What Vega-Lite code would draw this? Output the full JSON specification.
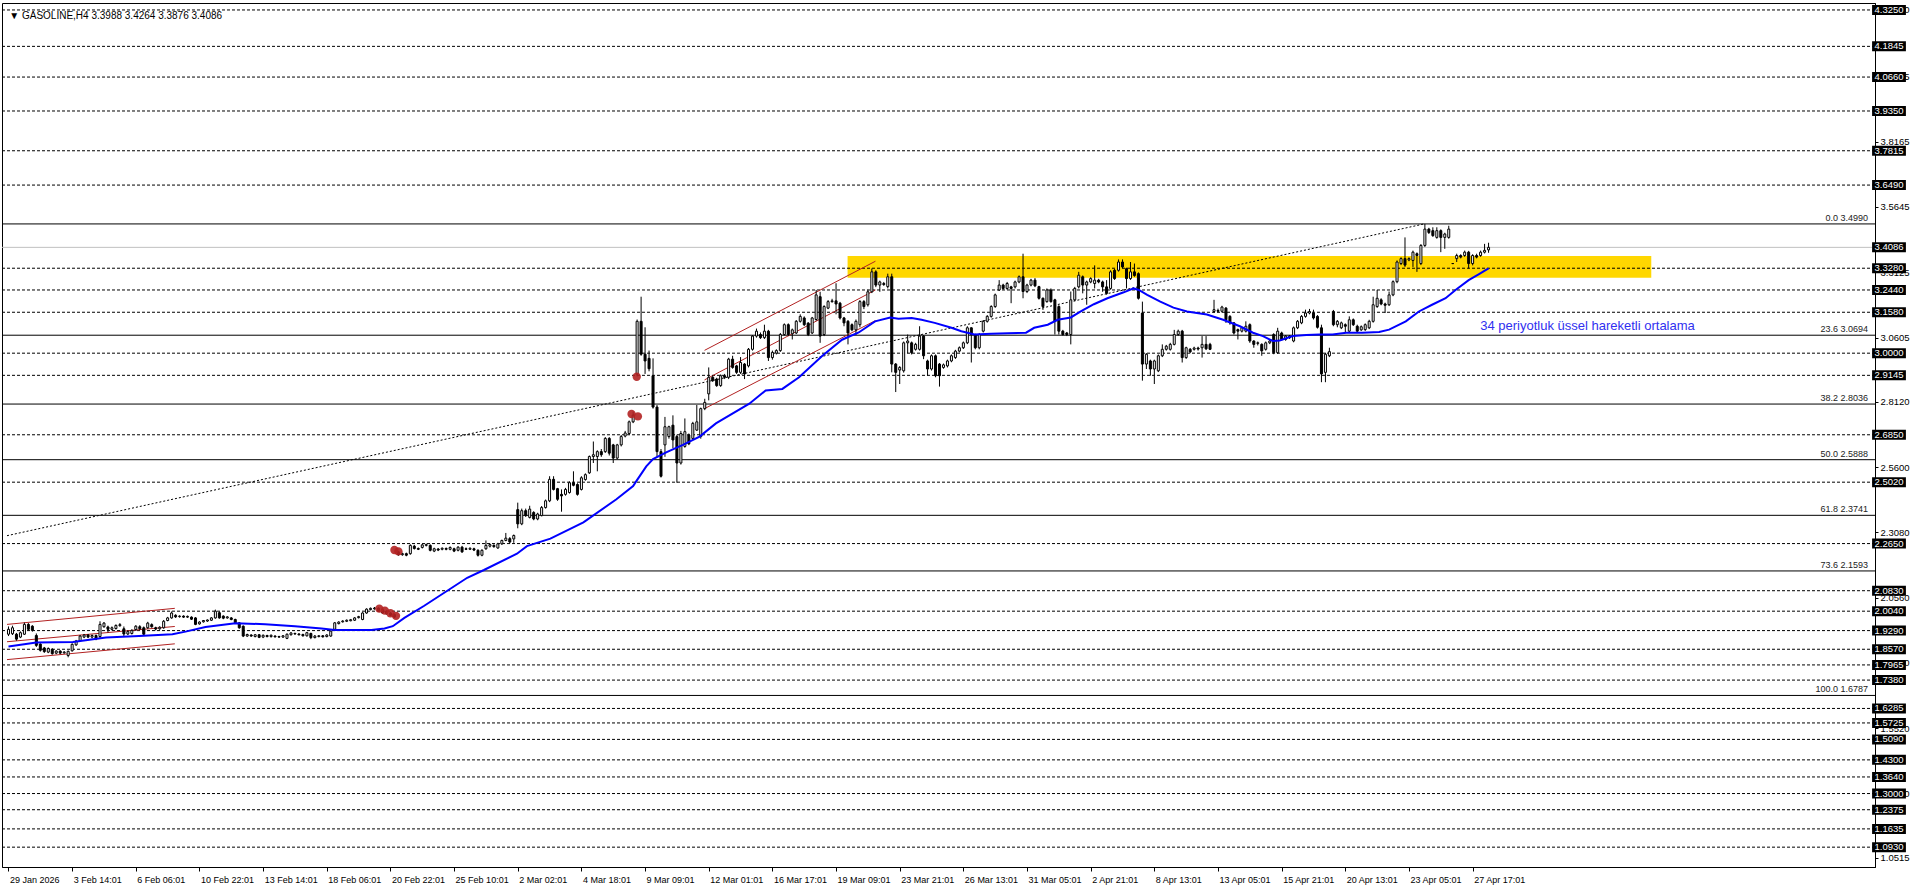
{
"$schema":"https://vega.github.io/schema/vega-lite/v6.json",
"width":1873,"height":864,
"autosize":{"type":"none"},
"padding":{"left":2,"top":3,"right":41,"bottom":21},
"background":"white",
"config":{"view":{"stroke":"black","strokeWidth":1},"font":"Liberation Sans"},
"datasets":{
"levels":[{"p":4.325},{"p":4.1845},{"p":4.066},{"p":3.935},{"p":3.7815},{"p":3.649},{"p":3.328},{"p":3.244},{"p":3.158},{"p":3.0},{"p":2.9145},{"p":2.685},{"p":2.502},{"p":2.265},{"p":2.083},{"p":2.004},{"p":1.929},{"p":1.857},{"p":1.7965},{"p":1.738},{"p":1.6285},{"p":1.5725},{"p":1.509},{"p":1.43},{"p":1.364},{"p":1.3},{"p":1.2375},{"p":1.1635},{"p":1.093}],
"boxes":[{"p":4.325},{"p":4.1845},{"p":4.066},{"p":3.935},{"p":3.7815},{"p":3.649},{"p":3.4086},{"p":3.328},{"p":3.244},{"p":3.158},{"p":3.0},{"p":2.9145},{"p":2.685},{"p":2.502},{"p":2.265},{"p":2.083},{"p":2.004},{"p":1.929},{"p":1.857},{"p":1.7965},{"p":1.738},{"p":1.6285},{"p":1.5725},{"p":1.509},{"p":1.43},{"p":1.364},{"p":1.3},{"p":1.2375},{"p":1.1635},{"p":1.093}],
"fib":[{"p":3.499,"t":"0.0 3.4990"},{"p":3.0694,"t":"23.6 3.0694"},{"p":2.8036,"t":"38.2 2.8036"},{"p":2.5888,"t":"50.0 2.5888"},{"p":2.3741,"t":"61.8 2.3741"},{"p":2.1593,"t":"73.6 2.1593"},{"p":1.6787,"t":"100.0 1.6787"}],
"channels":[{"g":"a1","i":-0.375,"p":1.953},{"g":"a1","i":41.8,"p":2.015},{"g":"a2","i":-0.375,"p":1.886},{"g":"a2","i":41.8,"p":1.945},{"g":"a3","i":-0.375,"p":1.817},{"g":"a3","i":41.8,"p":1.878},{"g":"b1","i":174.95,"p":3.011},{"g":"b1","i":217.9,"p":3.355},{"g":"b2","i":174.95,"p":2.897},{"g":"b2","i":217.9,"p":3.244},{"g":"b3","i":174.95,"p":2.786},{"g":"b3","i":217.9,"p":3.126}],
"trend":[{"i":-0.375,"p":2.2954},{"i":355.8,"p":3.499}],
"blobs":[{"i":97.0,"p":2.240},{"i":98.0,"p":2.235},{"i":93.2,"p":2.014},{"i":94.6,"p":2.006},{"i":96.0,"p":1.996},{"i":97.4,"p":1.986},{"i":157.9,"p":2.909},{"i":156.6,"p":2.765},{"i":158.2,"p":2.756}],
"ema":[{"i":0,"p":1.868},{"i":7,"p":1.883},{"i":16.2,"p":1.885},{"i":24.5,"p":1.902},{"i":32.8,"p":1.908},{"i":41.2,"p":1.915},{"i":44.5,"p":1.925},{"i":49.5,"p":1.943},{"i":57,"p":1.957},{"i":64.5,"p":1.954},{"i":72,"p":1.946},{"i":78.7,"p":1.937},{"i":82,"p":1.931},{"i":91.2,"p":1.931},{"i":94.5,"p":1.937},{"i":96.6,"p":1.946},{"i":99.5,"p":1.978},{"i":104.5,"p":2.025},{"i":115.3,"p":2.133},{"i":119.5,"p":2.163},{"i":127.8,"p":2.226},{"i":130.3,"p":2.255},{"i":136.2,"p":2.284},{"i":144.5,"p":2.347},{"i":152.8,"p":2.436},{"i":157,"p":2.487},{"i":157.8,"p":2.506},{"i":160.3,"p":2.563},{"i":162,"p":2.591},{"i":165.3,"p":2.617},{"i":169.5,"p":2.646},{"i":173.7,"p":2.678},{"i":177.8,"p":2.729},{"i":186.2,"p":2.805},{"i":190.3,"p":2.856},{"i":194.5,"p":2.862},{"i":198.7,"p":2.907},{"i":204.5,"p":2.989},{"i":209.5,"p":3.052},{"i":213.7,"p":3.08},{"i":217.8,"p":3.123},{"i":221.6,"p":3.138},{"i":223.7,"p":3.133},{"i":227,"p":3.136},{"i":229.5,"p":3.129},{"i":232.8,"p":3.117},{"i":237,"p":3.098},{"i":239.5,"p":3.085},{"i":242.8,"p":3.072},{"i":247,"p":3.075},{"i":251.2,"p":3.077},{"i":255.75,"p":3.079},{"i":257.8,"p":3.098},{"i":261.2,"p":3.11},{"i":263.7,"p":3.129},{"i":267,"p":3.138},{"i":269.5,"p":3.161},{"i":272.8,"p":3.189},{"i":276.2,"p":3.212},{"i":280.3,"p":3.235},{"i":282.8,"p":3.25},{"i":284.1,"p":3.244},{"i":286.2,"p":3.225},{"i":289.5,"p":3.199},{"i":292.8,"p":3.176},{"i":296.2,"p":3.161},{"i":301.2,"p":3.149},{"i":305.3,"p":3.129},{"i":309.5,"p":3.104},{"i":312.8,"p":3.079},{"i":315.3,"p":3.066},{"i":317.8,"p":3.047},{"i":319.5,"p":3.049},{"i":322.8,"p":3.066},{"i":326.2,"p":3.07},{"i":329.5,"p":3.072},{"i":332.8,"p":3.072},{"i":336.2,"p":3.079},{"i":340.3,"p":3.079},{"i":344.5,"p":3.082},{"i":347,"p":3.091},{"i":351.2,"p":3.123},{"i":354.5,"p":3.161},{"i":357.8,"p":3.187},{"i":361.2,"p":3.212},{"i":363.7,"p":3.244},{"i":367,"p":3.282},{"i":369.5,"p":3.304},{"i":372,"p":3.327}],
"candles":[
{"i":0,"o":1.915,"h":1.945,"l":1.908,"c":1.934},{"i":1,"o":1.917,"h":1.948,"l":1.912,"c":1.94},{"i":2,"o":1.915,"h":1.92,"l":1.89,"c":1.896},{"i":3,"o":1.904,"h":1.926,"l":1.9,"c":1.921},{"i":4,"o":1.915,"h":1.96,"l":1.912,"c":1.953},{"i":5,"o":1.953,"h":1.958,"l":1.93,"c":1.934},{"i":6,"o":1.946,"h":1.95,"l":1.925,"c":1.93},{"i":7,"o":1.91,"h":1.918,"l":1.866,"c":1.872},{"i":8,"o":1.877,"h":1.88,"l":1.848,"c":1.853},{"i":9,"o":1.862,"h":1.866,"l":1.843,"c":1.848},
{"i":10,"o":1.846,"h":1.864,"l":1.842,"c":1.86},{"i":11,"o":1.857,"h":1.861,"l":1.836,"c":1.84},{"i":12,"o":1.842,"h":1.853,"l":1.838,"c":1.85},{"i":13,"o":1.85,"h":1.853,"l":1.838,"c":1.842},{"i":14,"o":1.843,"h":1.85,"l":1.84,"c":1.846},{"i":15,"o":1.833,"h":1.852,"l":1.826,"c":1.849},{"i":16,"o":1.851,"h":1.88,"l":1.848,"c":1.876},{"i":17,"o":1.874,"h":1.893,"l":1.87,"c":1.889},{"i":18,"o":1.889,"h":1.912,"l":1.885,"c":1.908},{"i":19,"o":1.904,"h":1.916,"l":1.9,"c":1.912},
{"i":20,"o":1.912,"h":1.916,"l":1.9,"c":1.904},{"i":21,"o":1.904,"h":1.914,"l":1.899,"c":1.91},{"i":22,"o":1.91,"h":1.914,"l":1.892,"c":1.896},{"i":23,"o":1.906,"h":1.965,"l":1.9,"c":1.953},{"i":24,"o":1.944,"h":1.962,"l":1.94,"c":1.958},{"i":25,"o":1.943,"h":1.948,"l":1.922,"c":1.934},{"i":26,"o":1.934,"h":1.945,"l":1.93,"c":1.94},{"i":27,"o":1.937,"h":1.953,"l":1.933,"c":1.949},{"i":28,"o":1.948,"h":1.958,"l":1.944,"c":1.952},{"i":29,"o":1.936,"h":1.945,"l":1.905,"c":1.916},
{"i":30,"o":1.916,"h":1.93,"l":1.912,"c":1.925},{"i":31,"o":1.918,"h":1.934,"l":1.914,"c":1.93},{"i":32,"o":1.933,"h":1.95,"l":1.928,"c":1.946},{"i":33,"o":1.944,"h":1.95,"l":1.932,"c":1.936},{"i":34,"o":1.94,"h":1.945,"l":1.91,"c":1.915},{"i":35,"o":1.94,"h":1.963,"l":1.936,"c":1.958},{"i":36,"o":1.952,"h":1.957,"l":1.94,"c":1.944},{"i":37,"o":1.94,"h":1.944,"l":1.93,"c":1.935},{"i":38,"o":1.936,"h":1.946,"l":1.932,"c":1.942},{"i":39,"o":1.94,"h":1.97,"l":1.936,"c":1.965},
{"i":40,"o":1.968,"h":1.982,"l":1.965,"c":1.978},{"i":41,"o":1.978,"h":2.003,"l":1.975,"c":1.997},{"i":42,"o":1.988,"h":1.992,"l":1.978,"c":1.982},{"i":43,"o":1.983,"h":1.988,"l":1.979,"c":1.985},{"i":44,"o":1.985,"h":1.988,"l":1.978,"c":1.981},{"i":45,"o":1.981,"h":1.987,"l":1.978,"c":1.984},{"i":46,"o":1.981,"h":1.984,"l":1.97,"c":1.973},{"i":47,"o":1.978,"h":1.981,"l":1.95,"c":1.953},{"i":48,"o":1.955,"h":1.965,"l":1.952,"c":1.962},{"i":49,"o":1.963,"h":1.97,"l":1.96,"c":1.968},
{"i":50,"o":1.966,"h":1.972,"l":1.963,"c":1.97},{"i":51,"o":1.969,"h":1.981,"l":1.966,"c":1.978},{"i":52,"o":1.978,"h":2.01,"l":1.975,"c":2.004},{"i":53,"o":1.998,"h":2.003,"l":1.975,"c":1.978},{"i":54,"o":1.985,"h":1.988,"l":1.973,"c":1.977},{"i":55,"o":1.978,"h":1.985,"l":1.975,"c":1.982},{"i":56,"o":1.978,"h":1.981,"l":1.969,"c":1.972},{"i":57,"o":1.972,"h":1.975,"l":1.956,"c":1.959},{"i":58,"o":1.959,"h":1.962,"l":1.936,"c":1.94},{"i":59,"o":1.946,"h":1.949,"l":1.904,"c":1.908},
{"i":60,"o":1.908,"h":1.917,"l":1.905,"c":1.914},{"i":61,"o":1.912,"h":1.915,"l":1.905,"c":1.908},{"i":62,"o":1.906,"h":1.916,"l":1.903,"c":1.913},{"i":63,"o":1.913,"h":1.916,"l":1.9,"c":1.903},{"i":64,"o":1.904,"h":1.914,"l":1.9,"c":1.911},{"i":65,"o":1.91,"h":1.913,"l":1.903,"c":1.906},{"i":66,"o":1.906,"h":1.914,"l":1.902,"c":1.911},{"i":67,"o":1.908,"h":1.911,"l":1.902,"c":1.905},{"i":68,"o":1.906,"h":1.909,"l":1.901,"c":1.904},{"i":69,"o":1.904,"h":1.912,"l":1.901,"c":1.909},
{"i":70,"o":1.899,"h":1.918,"l":1.896,"c":1.915},{"i":71,"o":1.913,"h":1.923,"l":1.91,"c":1.92},{"i":72,"o":1.918,"h":1.921,"l":1.913,"c":1.916},{"i":73,"o":1.916,"h":1.919,"l":1.91,"c":1.913},{"i":74,"o":1.914,"h":1.917,"l":1.906,"c":1.909},{"i":75,"o":1.909,"h":1.924,"l":1.906,"c":1.921},{"i":76,"o":1.918,"h":1.921,"l":1.896,"c":1.902},{"i":77,"o":1.902,"h":1.912,"l":1.899,"c":1.908},{"i":78,"o":1.906,"h":1.912,"l":1.903,"c":1.909},{"i":79,"o":1.909,"h":1.912,"l":1.902,"c":1.905},
{"i":80,"o":1.906,"h":1.915,"l":1.903,"c":1.912},{"i":81,"o":1.908,"h":1.93,"l":1.905,"c":1.927},{"i":82,"o":1.934,"h":1.962,"l":1.93,"c":1.959},{"i":83,"o":1.956,"h":1.965,"l":1.953,"c":1.962},{"i":84,"o":1.963,"h":1.969,"l":1.96,"c":1.966},{"i":85,"o":1.965,"h":1.972,"l":1.962,"c":1.969},{"i":86,"o":1.967,"h":1.974,"l":1.965,"c":1.971},{"i":87,"o":1.969,"h":1.981,"l":1.966,"c":1.978},{"i":88,"o":1.979,"h":1.986,"l":1.976,"c":1.983},{"i":89,"o":1.972,"h":2.0,"l":1.969,"c":1.997},
{"i":90,"o":1.997,"h":2.015,"l":1.994,"c":2.012},{"i":91,"o":2.01,"h":2.018,"l":2.007,"c":2.015},{"i":92,"o":2.013,"h":2.02,"l":2.01,"c":2.016},{"i":93,"o":2.016,"h":2.019,"l":2.001,"c":2.004},{"i":94,"o":2.01,"h":2.013,"l":1.994,"c":1.997},{"i":95,"o":2.004,"h":2.007,"l":1.991,"c":1.994},{"i":96,"o":1.997,"h":2.0,"l":1.985,"c":1.988},{"i":97,"o":1.991,"h":1.994,"l":1.978,"c":1.981},{"i":98,"o":2.233,"h":2.236,"l":2.218,"c":2.222},{"i":99,"o":2.222,"h":2.23,"l":2.218,"c":2.226},
{"i":100,"o":2.226,"h":2.23,"l":2.216,"c":2.22},{"i":101,"o":2.226,"h":2.262,"l":2.222,"c":2.258},{"i":102,"o":2.255,"h":2.26,"l":2.242,"c":2.246},{"i":103,"o":2.246,"h":2.25,"l":2.24,"c":2.243},{"i":104,"o":2.25,"h":2.263,"l":2.246,"c":2.26},{"i":105,"o":2.258,"h":2.265,"l":2.254,"c":2.261},{"i":106,"o":2.258,"h":2.262,"l":2.235,"c":2.239},{"i":107,"o":2.236,"h":2.249,"l":2.232,"c":2.245},{"i":108,"o":2.244,"h":2.248,"l":2.236,"c":2.24},{"i":109,"o":2.243,"h":2.25,"l":2.239,"c":2.247},
{"i":110,"o":2.246,"h":2.25,"l":2.239,"c":2.243},{"i":111,"o":2.243,"h":2.254,"l":2.239,"c":2.25},{"i":112,"o":2.245,"h":2.249,"l":2.232,"c":2.236},{"i":113,"o":2.239,"h":2.255,"l":2.235,"c":2.251},{"i":114,"o":2.251,"h":2.256,"l":2.229,"c":2.233},{"i":115,"o":2.245,"h":2.25,"l":2.24,"c":2.243},{"i":116,"o":2.243,"h":2.25,"l":2.24,"c":2.247},{"i":117,"o":2.245,"h":2.249,"l":2.236,"c":2.24},{"i":118,"o":2.239,"h":2.243,"l":2.215,"c":2.22},{"i":119,"o":2.22,"h":2.243,"l":2.216,"c":2.239},
{"i":120,"o":2.245,"h":2.277,"l":2.241,"c":2.258},{"i":121,"o":2.255,"h":2.265,"l":2.25,"c":2.261},{"i":122,"o":2.258,"h":2.262,"l":2.249,"c":2.253},{"i":123,"o":2.248,"h":2.268,"l":2.245,"c":2.264},{"i":124,"o":2.264,"h":2.28,"l":2.26,"c":2.277},{"i":125,"o":2.277,"h":2.306,"l":2.274,"c":2.286},{"i":126,"o":2.284,"h":2.29,"l":2.266,"c":2.271},{"i":127,"o":2.283,"h":2.3,"l":2.268,"c":2.296},{"i":128,"o":2.396,"h":2.423,"l":2.324,"c":2.341},{"i":129,"o":2.341,"h":2.4,"l":2.336,"c":2.392},
{"i":130,"o":2.392,"h":2.4,"l":2.368,"c":2.373},{"i":131,"o":2.366,"h":2.411,"l":2.362,"c":2.398},{"i":132,"o":2.385,"h":2.39,"l":2.355,"c":2.36},{"i":133,"o":2.36,"h":2.384,"l":2.355,"c":2.379},{"i":134,"o":2.373,"h":2.41,"l":2.37,"c":2.404},{"i":135,"o":2.404,"h":2.435,"l":2.4,"c":2.43},{"i":136,"o":2.43,"h":2.525,"l":2.425,"c":2.513},{"i":137,"o":2.513,"h":2.525,"l":2.47,"c":2.474},{"i":138,"o":2.477,"h":2.48,"l":2.43,"c":2.436},{"i":139,"o":2.455,"h":2.474,"l":2.388,"c":2.449},
{"i":140,"o":2.455,"h":2.48,"l":2.45,"c":2.474},{"i":141,"o":2.462,"h":2.505,"l":2.458,"c":2.5},{"i":142,"o":2.5,"h":2.544,"l":2.486,"c":2.49},{"i":143,"o":2.493,"h":2.498,"l":2.45,"c":2.455},{"i":144,"o":2.474,"h":2.525,"l":2.47,"c":2.519},{"i":145,"o":2.512,"h":2.536,"l":2.508,"c":2.531},{"i":146,"o":2.538,"h":2.605,"l":2.534,"c":2.601},{"i":147,"o":2.601,"h":2.659,"l":2.576,"c":2.608},{"i":148,"o":2.601,"h":2.625,"l":2.544,"c":2.62},{"i":149,"o":2.62,"h":2.63,"l":2.6,"c":2.608},
{"i":150,"o":2.62,"h":2.676,"l":2.615,"c":2.671},{"i":151,"o":2.671,"h":2.676,"l":2.605,"c":2.614},{"i":152,"o":2.646,"h":2.65,"l":2.576,"c":2.595},{"i":153,"o":2.595,"h":2.65,"l":2.59,"c":2.646},{"i":154,"o":2.646,"h":2.684,"l":2.64,"c":2.678},{"i":155,"o":2.68,"h":2.7,"l":2.675,"c":2.692},{"i":156,"o":2.69,"h":2.74,"l":2.685,"c":2.735},{"i":157,"o":2.735,"h":2.775,"l":2.73,"c":2.761},{"i":158,"o":2.919,"h":3.13,"l":2.91,"c":3.123},{"i":159,"o":3.123,"h":3.218,"l":2.99,"c":2.996},
{"i":160,"o":2.996,"h":3.1,"l":2.92,"c":2.97},{"i":161,"o":2.98,"h":3.01,"l":2.93,"c":2.94},{"i":162,"o":2.913,"h":2.98,"l":2.786,"c":2.792},{"i":163,"o":2.792,"h":2.8,"l":2.6,"c":2.62},{"i":164,"o":2.62,"h":2.63,"l":2.52,"c":2.525},{"i":165,"o":2.646,"h":2.754,"l":2.6,"c":2.716},{"i":166,"o":2.678,"h":2.72,"l":2.67,"c":2.716},{"i":167,"o":2.722,"h":2.76,"l":2.633,"c":2.665},{"i":168,"o":2.678,"h":2.685,"l":2.5,"c":2.576},{"i":169,"o":2.576,"h":2.7,"l":2.57,"c":2.69},
{"i":170,"o":2.64,"h":2.748,"l":2.635,"c":2.697},{"i":171,"o":2.684,"h":2.69,"l":2.645,"c":2.65},{"i":172,"o":2.671,"h":2.735,"l":2.665,"c":2.729},{"i":173,"o":2.703,"h":2.8,"l":2.7,"c":2.735},{"i":174,"o":2.678,"h":2.79,"l":2.67,"c":2.786},{"i":175,"o":2.786,"h":2.824,"l":2.78,"c":2.81},{"i":176,"o":2.843,"h":2.945,"l":2.818,"c":2.907},{"i":177,"o":2.907,"h":2.915,"l":2.889,"c":2.894},{"i":178,"o":2.9,"h":2.905,"l":2.87,"c":2.875},{"i":179,"o":2.875,"h":2.918,"l":2.87,"c":2.913},
{"i":180,"o":2.913,"h":2.92,"l":2.9,"c":2.907},{"i":181,"o":2.907,"h":2.982,"l":2.9,"c":2.977},{"i":182,"o":2.977,"h":2.99,"l":2.94,"c":2.945},{"i":183,"o":2.951,"h":2.955,"l":2.92,"c":2.926},{"i":184,"o":2.926,"h":2.985,"l":2.92,"c":2.964},{"i":185,"o":2.958,"h":2.962,"l":2.9,"c":2.92},{"i":186,"o":2.951,"h":3.02,"l":2.945,"c":3.015},{"i":187,"o":3.015,"h":3.07,"l":3.01,"c":3.066},{"i":188,"o":3.066,"h":3.095,"l":3.06,"c":3.085},{"i":189,"o":3.072,"h":3.08,"l":3.055,"c":3.06},
{"i":190,"o":3.06,"h":3.11,"l":3.055,"c":3.085},{"i":191,"o":3.085,"h":3.09,"l":2.97,"c":2.983},{"i":192,"o":2.983,"h":3.01,"l":2.975,"c":3.003},{"i":193,"o":3.0,"h":3.015,"l":2.995,"c":3.01},{"i":194,"o":3.01,"h":3.078,"l":3.005,"c":3.072},{"i":195,"o":3.072,"h":3.115,"l":3.068,"c":3.11},{"i":196,"o":3.11,"h":3.115,"l":3.066,"c":3.072},{"i":197,"o":3.075,"h":3.095,"l":3.053,"c":3.09},{"i":198,"o":3.078,"h":3.128,"l":3.074,"c":3.123},{"i":199,"o":3.123,"h":3.15,"l":3.118,"c":3.142},
{"i":200,"o":3.136,"h":3.142,"l":3.105,"c":3.11},{"i":201,"o":3.116,"h":3.12,"l":3.066,"c":3.072},{"i":202,"o":3.078,"h":3.14,"l":3.074,"c":3.136},{"i":203,"o":3.13,"h":3.244,"l":3.125,"c":3.225},{"i":204,"o":3.218,"h":3.237,"l":3.04,"c":3.066},{"i":205,"o":3.072,"h":3.185,"l":3.066,"c":3.18},{"i":206,"o":3.174,"h":3.205,"l":3.17,"c":3.199},{"i":207,"o":3.199,"h":3.21,"l":3.195,"c":3.202},{"i":208,"o":3.202,"h":3.27,"l":3.15,"c":3.19},{"i":209,"o":3.193,"h":3.198,"l":3.13,"c":3.136},
{"i":210,"o":3.136,"h":3.14,"l":3.104,"c":3.117},{"i":211,"o":3.123,"h":3.128,"l":3.034,"c":3.078},{"i":212,"o":3.11,"h":3.115,"l":3.085,"c":3.09},{"i":213,"o":3.09,"h":3.13,"l":3.07,"c":3.123},{"i":214,"o":3.11,"h":3.205,"l":3.1,"c":3.199},{"i":215,"o":3.199,"h":3.205,"l":3.17,"c":3.18},{"i":216,"o":3.187,"h":3.245,"l":3.18,"c":3.237},{"i":217,"o":3.237,"h":3.327,"l":3.232,"c":3.314},{"i":218,"o":3.314,"h":3.32,"l":3.255,"c":3.263},{"i":219,"o":3.263,"h":3.28,"l":3.237,"c":3.275},
{"i":220,"o":3.269,"h":3.275,"l":3.26,"c":3.265},{"i":221,"o":3.257,"h":3.307,"l":3.25,"c":3.295},{"i":222,"o":3.295,"h":3.307,"l":2.926,"c":2.958},{"i":223,"o":2.958,"h":2.962,"l":2.85,"c":2.926},{"i":224,"o":2.935,"h":2.95,"l":2.881,"c":2.945},{"i":225,"o":2.932,"h":3.045,"l":2.925,"c":3.04},{"i":226,"o":3.04,"h":3.072,"l":3.0,"c":3.047},{"i":227,"o":3.04,"h":3.045,"l":2.995,"c":3.002},{"i":228,"o":3.015,"h":3.04,"l":3.01,"c":3.034},{"i":229,"o":3.015,"h":3.104,"l":3.01,"c":3.066},
{"i":230,"o":3.066,"h":3.07,"l":2.977,"c":2.99},{"i":231,"o":2.97,"h":2.975,"l":2.913,"c":2.939},{"i":232,"o":2.939,"h":2.995,"l":2.933,"c":2.99},{"i":233,"o":2.99,"h":2.995,"l":2.907,"c":2.913},{"i":234,"o":2.958,"h":2.962,"l":2.871,"c":2.913},{"i":235,"o":2.945,"h":2.96,"l":2.94,"c":2.955},{"i":236,"o":2.951,"h":2.975,"l":2.945,"c":2.97},{"i":237,"o":2.97,"h":2.995,"l":2.965,"c":2.99},{"i":238,"o":2.983,"h":3.013,"l":2.978,"c":3.008},{"i":239,"o":3.008,"h":3.026,"l":3.003,"c":3.021},
{"i":240,"o":3.021,"h":3.045,"l":3.016,"c":3.04},{"i":241,"o":3.04,"h":3.104,"l":3.035,"c":3.098},{"i":242,"o":3.098,"h":3.1,"l":2.964,"c":3.072},{"i":243,"o":3.072,"h":3.075,"l":3.015,"c":3.021},{"i":244,"o":3.021,"h":3.078,"l":3.015,"c":3.072},{"i":245,"o":3.085,"h":3.128,"l":3.08,"c":3.123},{"i":246,"o":3.123,"h":3.147,"l":3.118,"c":3.142},{"i":247,"o":3.142,"h":3.185,"l":3.137,"c":3.18},{"i":248,"o":3.18,"h":3.23,"l":3.175,"c":3.225},{"i":249,"o":3.244,"h":3.282,"l":3.24,"c":3.263},
{"i":250,"o":3.263,"h":3.268,"l":3.245,"c":3.25},{"i":251,"o":3.25,"h":3.275,"l":3.245,"c":3.269},{"i":252,"o":3.256,"h":3.26,"l":3.193,"c":3.25},{"i":253,"o":3.256,"h":3.28,"l":3.25,"c":3.275},{"i":254,"o":3.275,"h":3.3,"l":3.27,"c":3.295},{"i":255,"o":3.295,"h":3.384,"l":3.212,"c":3.238},{"i":256,"o":3.238,"h":3.268,"l":3.232,"c":3.263},{"i":257,"o":3.263,"h":3.287,"l":3.258,"c":3.282},{"i":258,"o":3.282,"h":3.29,"l":3.255,"c":3.26},{"i":259,"o":3.257,"h":3.26,"l":3.207,"c":3.212},
{"i":260,"o":3.212,"h":3.215,"l":3.167,"c":3.18},{"i":261,"o":3.199,"h":3.25,"l":3.195,"c":3.244},{"i":262,"o":3.244,"h":3.25,"l":3.195,"c":3.199},{"i":263,"o":3.206,"h":3.21,"l":3.072,"c":3.123},{"i":264,"o":3.18,"h":3.185,"l":3.072,"c":3.085},{"i":265,"o":3.085,"h":3.09,"l":3.068,"c":3.072},{"i":266,"o":3.078,"h":3.082,"l":3.066,"c":3.072},{"i":267,"o":3.072,"h":3.238,"l":3.034,"c":3.206},{"i":268,"o":3.206,"h":3.256,"l":3.2,"c":3.25},{"i":269,"o":3.256,"h":3.314,"l":3.25,"c":3.301},
{"i":270,"o":3.295,"h":3.3,"l":3.231,"c":3.263},{"i":271,"o":3.263,"h":3.28,"l":3.187,"c":3.275},{"i":272,"o":3.275,"h":3.293,"l":3.27,"c":3.288},{"i":273,"o":3.269,"h":3.339,"l":3.25,"c":3.282},{"i":274,"o":3.282,"h":3.287,"l":3.27,"c":3.275},{"i":275,"o":3.275,"h":3.28,"l":3.237,"c":3.256},{"i":276,"o":3.256,"h":3.282,"l":3.226,"c":3.231},{"i":277,"o":3.25,"h":3.32,"l":3.245,"c":3.314},{"i":278,"o":3.32,"h":3.325,"l":3.283,"c":3.288},{"i":279,"o":3.32,"h":3.362,"l":3.315,"c":3.352},
{"i":280,"o":3.352,"h":3.362,"l":3.328,"c":3.333},{"i":281,"o":3.326,"h":3.33,"l":3.25,"c":3.288},{"i":282,"o":3.288,"h":3.352,"l":3.283,"c":3.314},{"i":283,"o":3.314,"h":3.346,"l":3.295,"c":3.3},{"i":284,"o":3.307,"h":3.312,"l":3.207,"c":3.212},{"i":285,"o":3.155,"h":3.199,"l":2.894,"c":2.958},{"i":286,"o":2.958,"h":3.0,"l":2.939,"c":2.996},{"i":287,"o":2.97,"h":2.975,"l":2.913,"c":2.939},{"i":288,"o":2.939,"h":2.975,"l":2.881,"c":2.97},{"i":289,"o":2.932,"h":2.995,"l":2.927,"c":2.99},
{"i":290,"o":2.99,"h":3.034,"l":2.985,"c":3.015},{"i":291,"o":3.015,"h":3.032,"l":3.01,"c":3.027},{"i":292,"o":3.015,"h":3.04,"l":3.01,"c":3.034},{"i":293,"o":3.034,"h":3.09,"l":3.03,"c":3.072},{"i":294,"o":3.072,"h":3.091,"l":3.067,"c":3.085},{"i":295,"o":3.085,"h":3.09,"l":2.964,"c":2.983},{"i":296,"o":2.983,"h":3.025,"l":2.978,"c":3.021},{"i":297,"o":3.015,"h":3.02,"l":3.0,"c":3.005},{"i":298,"o":3.015,"h":3.025,"l":3.01,"c":3.02},{"i":299,"o":3.02,"h":3.025,"l":3.01,"c":3.016},
{"i":300,"o":3.021,"h":3.066,"l":2.983,"c":3.034},{"i":301,"o":3.034,"h":3.066,"l":3.012,"c":3.017},{"i":302,"o":3.034,"h":3.04,"l":3.012,"c":3.015},{"i":303,"o":3.161,"h":3.206,"l":3.155,"c":3.168},{"i":304,"o":3.165,"h":3.172,"l":3.157,"c":3.162},{"i":305,"o":3.162,"h":3.183,"l":3.157,"c":3.178},{"i":306,"o":3.174,"h":3.178,"l":3.117,"c":3.129},{"i":307,"o":3.142,"h":3.147,"l":3.11,"c":3.117},{"i":308,"o":3.117,"h":3.12,"l":3.072,"c":3.078},{"i":309,"o":3.091,"h":3.095,"l":3.053,"c":3.085},
{"i":310,"o":3.085,"h":3.102,"l":3.08,"c":3.098},{"i":311,"o":3.085,"h":3.123,"l":3.08,"c":3.104},{"i":312,"o":3.11,"h":3.115,"l":3.04,"c":3.047},{"i":313,"o":3.047,"h":3.05,"l":3.021,"c":3.034},{"i":314,"o":3.038,"h":3.045,"l":3.03,"c":3.04},{"i":315,"o":3.034,"h":3.038,"l":2.99,"c":3.009},{"i":316,"o":3.015,"h":3.045,"l":3.01,"c":3.04},{"i":317,"o":3.04,"h":3.052,"l":3.035,"c":3.047},{"i":318,"o":3.072,"h":3.077,"l":2.996,"c":3.002},{"i":319,"o":3.002,"h":3.098,"l":2.997,"c":3.085},
{"i":320,"o":3.078,"h":3.083,"l":3.048,"c":3.053},{"i":321,"o":3.053,"h":3.07,"l":3.048,"c":3.066},{"i":322,"o":3.066,"h":3.07,"l":3.055,"c":3.06},{"i":323,"o":3.047,"h":3.103,"l":3.042,"c":3.098},{"i":324,"o":3.098,"h":3.128,"l":3.093,"c":3.123},{"i":325,"o":3.117,"h":3.147,"l":3.112,"c":3.142},{"i":326,"o":3.142,"h":3.168,"l":3.137,"c":3.155},{"i":327,"o":3.155,"h":3.171,"l":3.15,"c":3.161},{"i":328,"o":3.155,"h":3.168,"l":3.13,"c":3.136},{"i":329,"o":3.142,"h":3.147,"l":3.095,"c":3.1},
{"i":330,"o":3.098,"h":3.11,"l":2.888,"c":2.92},{"i":331,"o":2.926,"h":3.002,"l":2.888,"c":2.996},{"i":332,"o":2.99,"h":3.021,"l":2.985,"c":3.006},{"i":333,"o":3.161,"h":3.167,"l":3.104,"c":3.11},{"i":334,"o":3.11,"h":3.128,"l":3.1,"c":3.123},{"i":335,"o":3.098,"h":3.122,"l":3.093,"c":3.117},{"i":336,"o":3.11,"h":3.115,"l":3.079,"c":3.104},{"i":337,"o":3.085,"h":3.142,"l":3.08,"c":3.129},{"i":338,"o":3.129,"h":3.134,"l":3.105,"c":3.11},{"i":339,"o":3.104,"h":3.11,"l":3.08,"c":3.085},
{"i":340,"o":3.09,"h":3.107,"l":3.086,"c":3.102},{"i":341,"o":3.091,"h":3.115,"l":3.086,"c":3.11},{"i":342,"o":3.098,"h":3.129,"l":3.093,"c":3.123},{"i":343,"o":3.123,"h":3.218,"l":3.118,"c":3.187},{"i":344,"o":3.18,"h":3.244,"l":3.175,"c":3.212},{"i":345,"o":3.206,"h":3.212,"l":3.185,"c":3.19},{"i":346,"o":3.19,"h":3.195,"l":3.155,"c":3.185},{"i":347,"o":3.187,"h":3.238,"l":3.182,"c":3.225},{"i":348,"o":3.225,"h":3.281,"l":3.22,"c":3.276},{"i":349,"o":3.276,"h":3.358,"l":3.27,"c":3.352},
{"i":350,"o":3.346,"h":3.37,"l":3.34,"c":3.365},{"i":351,"o":3.365,"h":3.447,"l":3.333,"c":3.34},{"i":352,"o":3.36,"h":3.37,"l":3.355,"c":3.365},{"i":353,"o":3.358,"h":3.396,"l":3.333,"c":3.39},{"i":354,"o":3.384,"h":3.389,"l":3.314,"c":3.377},{"i":355,"o":3.346,"h":3.421,"l":3.34,"c":3.416},{"i":356,"o":3.416,"h":3.499,"l":3.41,"c":3.479},{"i":357,"o":3.479,"h":3.484,"l":3.46,"c":3.466},{"i":358,"o":3.473,"h":3.486,"l":3.449,"c":3.454},{"i":359,"o":3.447,"h":3.486,"l":3.442,"c":3.473},
{"i":360,"o":3.473,"h":3.478,"l":3.39,"c":3.447},{"i":361,"o":3.447,"h":3.465,"l":3.403,"c":3.46},{"i":362,"o":3.447,"h":3.492,"l":3.442,"c":3.479},{"i":363,"o":3.346,"h":3.348,"l":3.344,"c":3.346},{"i":364,"o":3.365,"h":3.384,"l":3.352,"c":3.377},{"i":365,"o":3.377,"h":3.382,"l":3.366,"c":3.371},{"i":366,"o":3.377,"h":3.396,"l":3.372,"c":3.39},{"i":367,"o":3.39,"h":3.395,"l":3.327,"c":3.346},{"i":368,"o":3.346,"h":3.382,"l":3.339,"c":3.377},{"i":369,"o":3.377,"h":3.384,"l":3.366,"c":3.371},
{"i":370,"o":3.377,"h":3.396,"l":3.372,"c":3.39},{"i":371,"o":3.39,"h":3.422,"l":3.385,"c":3.397},{"i":372,"o":3.3988,"h":3.4264,"l":3.3876,"c":3.4086}
]
},
"layer":[
{"data":{"values":[{"i1":210.9,"i2":412.9,"p1":3.2909,"p2":3.3748}]},
 "mark":{"type":"rect","color":"#FFD700"},
 "encoding":{
  "x":{"field":"i1","type":"quantitative","title":null,"scale":{"domain":[-0.375,467.875],"nice":false,"zero":false},
   "axis":{"orient":"bottom","values":[0,16,32,48,64,80,96,112,128,144,160,176,192,208,224,240,256,272,288,304,320,336,352,368],
    "labelExpr":"['29 Jan 2026','3 Feb 14:01','6 Feb 06:01','10 Feb 22:01','13 Feb 14:01','18 Feb 06:01','20 Feb 22:01','25 Feb 10:01','2 Mar 02:01','4 Mar 18:01','9 Mar 09:01','12 Mar 01:01','16 Mar 17:01','19 Mar 09:01','23 Mar 21:01','26 Mar 13:01','31 Mar 05:01','2 Apr 21:01','8 Apr 13:01','13 Apr 05:01','15 Apr 21:01','20 Apr 13:01','23 Apr 05:01','27 Apr 17:01'][round(datum.value/16)]",
    "labelAlign":"left","labelBaseline":"top","labelPadding":4,"labelOffset":1,"labelFontSize":9,"labelColor":"black","labelFont":"Liberation Sans",
    "tickSize":4,"tickColor":"black","domainColor":"black","grid":false,"labelFlush":false,"labelOverlap":false}},
  "x2":{"field":"i2"},
  "y":{"field":"p1","type":"quantitative","title":null,"scale":{"domain":[1.0357,4.3326],"nice":false,"zero":false},
   "axis":{"orient":"right","values":[4.325,4.1945,4.0685,3.9425,3.8165,3.6905,3.5645,3.4385,3.3125,3.1865,3.0605,2.938,2.812,2.686,2.56,2.434,2.308,2.182,2.056,1.93,1.804,1.678,1.552,1.426,1.3,1.174,1.0515],
    "format":".4f","labelAlign":"left","labelBaseline":"middle","labelPadding":2,"labelFontSize":9.5,"labelColor":"black","labelFont":"Liberation Sans",
    "tickSize":3,"tickColor":"black","domainColor":"black","grid":false,"labelFlush":false,"labelOverlap":false}},
  "y2":{"field":"p2"}}},
{"data":{"name":"levels"},"mark":{"type":"rule","color":"black","strokeWidth":1,"strokeDash":[3,2]},
 "encoding":{"y":{"field":"p","type":"quantitative","title":null,"scale":{"domain":[1.0357,4.3326],"nice":false,"zero":false}}}},
{"data":{"name":"fib"},"mark":{"type":"rule","color":"black","strokeWidth":1},
 "encoding":{"y":{"field":"p","type":"quantitative","title":null,"scale":{"domain":[1.0357,4.3326],"nice":false,"zero":false}}}},
{"data":{"values":[{"p":3.4086}]},"mark":{"type":"rule","color":"#C0C0C0","strokeWidth":1},
 "encoding":{"y":{"field":"p","type":"quantitative","title":null,"scale":{"domain":[1.0357,4.3326],"nice":false,"zero":false}}}},
{"data":{"name":"trend"},"mark":{"type":"line","color":"black","strokeWidth":1,"strokeDash":[2,2]},
 "encoding":{"x":{"field":"i","type":"quantitative","title":null,"scale":{"domain":[-0.375,467.875],"nice":false,"zero":false}},
  "y":{"field":"p","type":"quantitative","title":null,"scale":{"domain":[1.0357,4.3326],"nice":false,"zero":false}}}},
{"data":{"name":"channels"},"mark":{"type":"line","color":"#B22222","strokeWidth":1},
 "encoding":{"x":{"field":"i","type":"quantitative","title":null,"scale":{"domain":[-0.375,467.875],"nice":false,"zero":false}},
  "y":{"field":"p","type":"quantitative","title":null,"scale":{"domain":[1.0357,4.3326],"nice":false,"zero":false}},
  "detail":{"field":"g","type":"nominal"}}},
{"data":{"name":"fib"},"mark":{"type":"text","align":"right","baseline":"bottom","dy":-1,"fontSize":9,"font":"Liberation Sans","color":"#222222"},
 "encoding":{"x":{"datum":467.4,"type":"quantitative","title":null,"scale":{"domain":[-0.375,467.875],"nice":false,"zero":false}},
  "y":{"field":"p","type":"quantitative","title":null,"scale":{"domain":[1.0357,4.3326],"nice":false,"zero":false}},
  "text":{"field":"t","type":"nominal"}}},
{"data":{"name":"candles"},"mark":{"type":"rule","color":"black","strokeWidth":1},
 "encoding":{"x":{"field":"i","type":"quantitative","title":null,"scale":{"domain":[-0.375,467.875],"nice":false,"zero":false}},
  "y":{"field":"l","type":"quantitative","title":null,"scale":{"domain":[1.0357,4.3326],"nice":false,"zero":false}},
  "y2":{"field":"h"}}},
{"data":{"name":"candles"},"mark":{"type":"bar","width":2,"stroke":"black","strokeWidth":1},
 "encoding":{"x":{"field":"i","type":"quantitative","title":null,"scale":{"domain":[-0.375,467.875],"nice":false,"zero":false}},
  "y":{"field":"o","type":"quantitative","title":null,"scale":{"domain":[1.0357,4.3326],"nice":false,"zero":false}},
  "y2":{"field":"c"},
  "fill":{"condition":{"test":"datum.c >= datum.o","value":"white"},"value":"black"}}},
{"data":{"name":"blobs"},"mark":{"type":"circle","color":"#B22222","opacity":0.9,"size":70},
 "encoding":{"x":{"field":"i","type":"quantitative","title":null,"scale":{"domain":[-0.375,467.875],"nice":false,"zero":false}},
  "y":{"field":"p","type":"quantitative","title":null,"scale":{"domain":[1.0357,4.3326],"nice":false,"zero":false}}}},
{"data":{"name":"ema"},"mark":{"type":"line","color":"#0000FF","strokeWidth":2},
 "encoding":{"x":{"field":"i","type":"quantitative","title":null,"scale":{"domain":[-0.375,467.875],"nice":false,"zero":false}},
  "y":{"field":"p","type":"quantitative","title":null,"scale":{"domain":[1.0357,4.3326],"nice":false,"zero":false}}}},
{"data":{"values":[{"t":"34 periyotluk üssel hareketli ortalama"}]},"mark":{"type":"text","align":"left","baseline":"middle","fontSize":13,"font":"Liberation Sans","color":"#3030F0"},
 "encoding":{"x":{"datum":369.9,"type":"quantitative","title":null,"scale":{"domain":[-0.375,467.875],"nice":false,"zero":false}},
  "y":{"datum":3.104,"type":"quantitative","title":null,"scale":{"domain":[1.0357,4.3326],"nice":false,"zero":false}},
  "text":{"field":"t","type":"nominal"}}},
{"data":{"values":[{"t":"▼ GASOLINE,H4  3.3988 3.4264 3.3876 3.4086"}]},"mark":{"type":"text","align":"left","baseline":"middle","fontSize":10,"font":"Liberation Sans","color":"black"},
 "encoding":{"x":{"datum":0.2,"type":"quantitative","title":null,"scale":{"domain":[-0.375,467.875],"nice":false,"zero":false}},
  "y":{"datum":4.302,"type":"quantitative","title":null,"scale":{"domain":[1.0357,4.3326],"nice":false,"zero":false}},
  "text":{"field":"t","type":"nominal"}}},
{"data":{"name":"boxes"},"mark":{"type":"bar","orient":"horizontal","height":10,"color":"black"},
 "encoding":{"x":{"datum":468.4,"type":"quantitative","title":null,"scale":{"domain":[-0.375,467.875],"nice":false,"zero":false}},
  "x2":{"datum":476.9},
  "y":{"field":"p","type":"quantitative","title":null,"scale":{"domain":[1.0357,4.3326],"nice":false,"zero":false}}}},
{"data":{"name":"boxes"},"mark":{"type":"text","align":"left","baseline":"middle","fontSize":9.5,"font":"Liberation Sans","color":"white"},
 "encoding":{"x":{"datum":469.0,"type":"quantitative","title":null,"scale":{"domain":[-0.375,467.875],"nice":false,"zero":false}},
  "y":{"field":"p","type":"quantitative","title":null,"scale":{"domain":[1.0357,4.3326],"nice":false,"zero":false}},
  "text":{"field":"p","type":"quantitative","format":".4f"}}}
]
}
